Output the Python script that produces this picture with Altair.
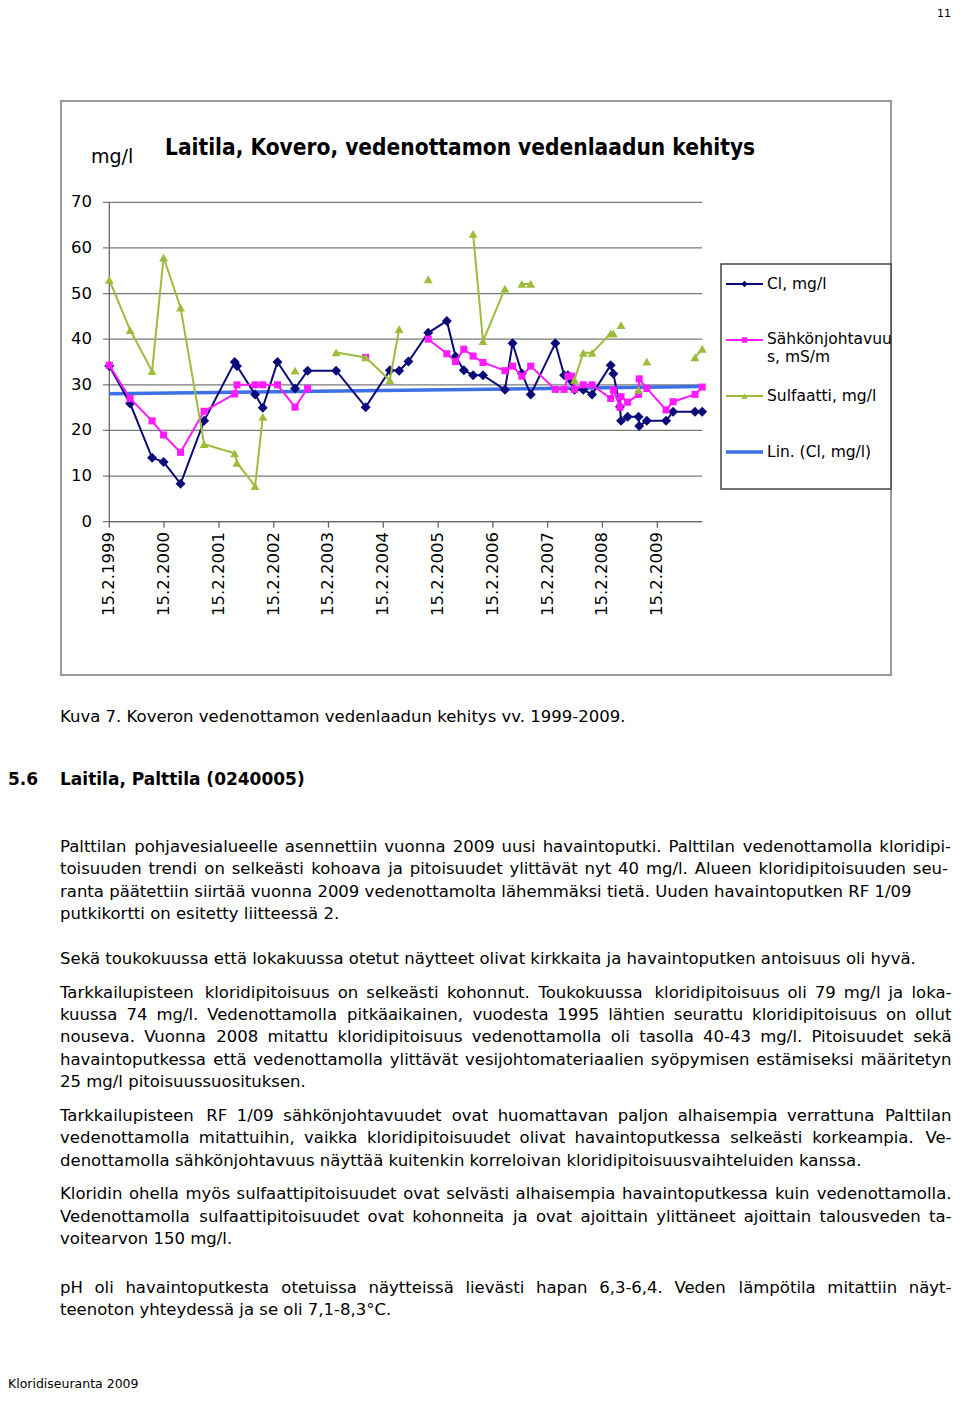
import altair as alt

# ---------------- data ----------------
dates = ["1999-02-15", "1999-07-04", "1999-11-27", "2000-02-12", "2000-06-04", "2000-11-08",
         "2001-05-31", "2001-06-15", "2001-10-14", "2001-12-04", "2002-03-12", "2002-07-07",
         "2002-09-29", "2003-04-07", "2003-10-21", "2004-03-30", "2004-05-31", "2004-08-01",
         "2004-12-11", "2005-04-14", "2005-06-11", "2005-08-05", "2005-10-06", "2005-12-11",
         "2006-05-06", "2006-06-26", "2006-08-27", "2006-10-25", "2007-04-07", "2007-06-05",
         "2007-06-30", "2007-07-26", "2007-08-13", "2007-10-10", "2007-12-08", "2008-04-10",
         "2008-04-28", "2008-06-11", "2008-06-18", "2008-08-01", "2008-10-13", "2008-10-17",
         "2008-12-07", "2009-04-14", "2009-05-31", "2009-10-24", "2009-12-11"]
cl = [34.1, 25.9, 14.0, 13.1, 8.3, 22.1, 35.0, 34.1, 27.9, 25.0, 35.0, 29.2,
      33.1, 33.1, 25.1, 33.2, 33.1, 35.1, 41.4, 44.0, 36.2, 33.2, 32.1, 32.1,
      28.9, 39.1, 32.5, 27.9, 39.1, 32.1, 32.1, 30.7, 28.9, 28.9, 27.9, 34.3,
      32.4, 25.2, 22.1, 23.0, 23.0, 21.0, 22.1, 22.1, 24.1, 24.1, 24.1]
cond = [34.3, 27.0, 22.1, 19.0, 15.2, 24.2, 28.0, 30.0, 30.0, 30.0, 30.0, 25.1,
        29.2, None, 36.0, None, None, None, 40.0, 36.8, 35.1, 37.8, 36.3, 34.9,
        33.1, 34.1, 31.9, 34.1, 29.0, 29.0, 31.9, 31.9, 29.0, 30.0, 30.0, 27.0,
        28.9, 25.1, 27.4, 26.2, 27.9, 31.3, 29.2, 24.5, 26.3, 27.9, 29.5]
sulf = [53.0, 42.0, 33.0, 57.9, 46.9, 17.0, 15.0, 12.9, 7.8, 23.0, None, 33.1,
        None, 37.1, 36.0, 31.0, 42.2, None, 53.1, None, None, None, 63.1, 39.6,
        51.1, None, 52.1, 52.1, None, None, None, None, 31.1, 37.0, 37.0, 41.3,
        41.3, None, 43.1, None, 28.9, None, 35.1, None, None, 36.0, 37.9]

legend_labels = ["Cl, mg/l", "Sähkönjohtavuu", "s, mS/m", "Sulfaatti, mg/l", "Lin. (Cl, mg/l)"]
y_ticks = [0, 10, 20, 30, 40, 50, 60, 70]
x_tick_dates = ["1999-02-15", "2000-02-15", "2001-02-15", "2002-02-15", "2003-02-15", "2004-02-15",
                "2005-02-15", "2006-02-15", "2007-02-15", "2008-02-15", "2009-02-15"]
x_tick_labels = ["15.2.1999", "15.2.2000", "15.2.2001", "15.2.2002", "15.2.2003", "15.2.2004",
                 "15.2.2005", "15.2.2006", "15.2.2007", "15.2.2008", "15.2.2009"]
x_axis_end = "2009-12-11"
chart_title = "Laitila, Kovero, vedenottamon vedenlaadun kehitys"
y_unit = "mg/l"
caption = "Kuva 7. Koveron vedenottamon vedenlaadun kehitys vv. 1999-2009."
section_no = "5.6"
section_title = "Laitila, Palttila (0240005)"
paragraphs = [
    ["Palttilan pohjavesialueelle asennettiin vuonna 2009 uusi havaintoputki. Palttilan vedenottamolla kloridipi-",
     "toisuuden trendi on selkeästi kohoava ja pitoisuudet ylittävät nyt 40 mg/l. Alueen kloridipitoisuuden seu-",
     "ranta päätettiin siirtää vuonna 2009 vedenottamolta lähemmäksi tietä. Uuden havaintoputken RF 1/09",
     "putkikortti on esitetty liitteessä 2."],
    ["Sekä toukokuussa että lokakuussa otetut näytteet olivat kirkkaita ja havaintoputken antoisuus oli hyvä."],
    ["Tarkkailupisteen kloridipitoisuus on selkeästi kohonnut. Toukokuussa kloridipitoisuus oli 79 mg/l ja loka-",
     "kuussa 74 mg/l.  Vedenottamolla pitkäaikainen, vuodesta 1995 lähtien seurattu kloridipitoisuus on ollut",
     "nouseva. Vuonna 2008 mitattu kloridipitoisuus vedenottamolla oli tasolla 40-43 mg/l. Pitoisuudet sekä",
     "havaintoputkessa että vedenottamolla ylittävät vesijohtomateriaalien syöpymisen estämiseksi määritetyn",
     "25 mg/l pitoisuussuosituksen."],
    ["Tarkkailupisteen RF 1/09 sähkönjohtavuudet ovat huomattavan paljon alhaisempia verrattuna Palttilan",
     "vedenottamolla mitattuihin, vaikka kloridipitoisuudet olivat havaintoputkessa selkeästi korkeampia. Ve-",
     "denottamolla sähkönjohtavuus näyttää kuitenkin korreloivan kloridipitoisuusvaihteluiden kanssa."],
    ["Kloridin ohella myös sulfaattipitoisuudet ovat selvästi alhaisempia havaintoputkessa kuin vedenottamolla.",
     "Vedenottamolla sulfaattipitoisuudet ovat kohonneita ja ovat ajoittain ylittäneet ajoittain talousveden ta-",
     "voitearvon 150 mg/l."],
    ["pH oli havaintoputkesta otetuissa näytteissä lievästi hapan 6,3-6,4. Veden lämpötila mitattiin näyt-",
     "teenoton yhteydessä ja se oli 7,1-8,3°C."],
]
page_number = "11"
footer = "Kloridiseuranta 2009"

# ---------------- layout (page pixels -> canvas pixels) ----------------
OFF = 8
W, H = 944, 1382


def c(v):
    return v - OFF


X0, X1 = c(109.3), c(702.2)
Y0, Y70 = c(521.7), c(202.3)
LEFT = 60
RIGHT_MAX = OFF + W - 0.5
para_y = [[846, 868, 891, 913], [958], [992, 1014, 1036, 1059, 1081],
          [1115, 1137, 1160], [1193, 1216, 1238], [1287, 1309]]
# right edge of justified lines (None = ragged last line)
para_right = [[951, 948, None, None], [None], [958, 958, 958, 958, None],
              [958, 958, None], [957, 958, None], [958, None]]

NAVY, MAGENTA, GREEN, TREND = "#0a0a78", "#ff1aff", "#9dbc3c", "#3d6fe6"
AXIS = "#666666"
FONT = "DejaVu Sans"
BODY = 16.5

# approximate DejaVu Sans advance widths (em) for word placement in justified lines
ADV = {" ": .318, ",": .318, "-": .361, ".": .318, "/": .337, ":": .337, "(": .390, ")": .390,
       "°": .500, "0": .636, "1": .636, "2": .636, "3": .636, "4": .636, "5": .636, "6": .636,
       "7": .636, "8": .636, "9": .636,
       "A": .684, "B": .686, "C": .698, "D": .770, "E": .632, "F": .575, "G": .775, "H": .752,
       "I": .295, "J": .295, "K": .656, "L": .557, "M": .863, "N": .748, "O": .787, "P": .603,
       "R": .695, "S": .635, "T": .611, "U": .732, "V": .684, "W": .989, "Y": .611,
       "a": .613, "b": .635, "c": .550, "d": .635, "e": .615, "f": .352, "g": .635, "h": .634,
       "i": .278, "j": .278, "k": .579, "l": .278, "m": .974, "n": .634, "o": .612, "p": .635,
       "q": .635, "r": .411, "s": .521, "t": .392, "u": .634, "v": .592, "w": .818, "x": .592,
       "y": .592, "z": .525, "ä": .613, "ö": .612, "å": .613}


def text_width(s, fs):
    return sum(ADV.get(ch, .6) for ch in s) * fs


xscale = alt.Scale(type="utc",
                   domain=[alt.DateTime(year=1999, month=2, date=15, utc=True),
                           alt.DateTime(year=2009, month=12, date=11, utc=True)],
                   range=[X0, X1])
yscale = alt.Scale(domain=[0, 70], range=[Y0, Y70], nice=False, zero=False)


def X(field, typ="T"):
    return alt.X(f"{field}:{typ}", scale=xscale, axis=None)


def Y(field):
    return alt.Y(f"{field}:Q", scale=yscale, axis=None)


def seg_records(vals):
    recs, seg = [], 0
    for d, v in zip(dates, vals):
        if v is None:
            seg += 1
            continue
        recs.append({"date": d, "value": v, "seg": seg})
    return recs


def one():
    return alt.Data(values=[{}])


layers = []

# chart frame
layers.append(alt.Chart(one()).mark_rect(fill="white", stroke="#9a9a9a", strokeWidth=2).encode(
    x=alt.value(c(61)), x2=alt.value(c(891)), y=alt.value(c(101)), y2=alt.value(c(675))))

# gridlines + y ticks
layers.append(alt.Chart(alt.Data(values=[{"v": t} for t in y_ticks])).mark_rule(
    color="#7a7a7a", strokeWidth=1.3).encode(y=Y("v"), x=alt.value(c(103)), x2=alt.value(X1)))
# y axis line
layers.append(alt.Chart(alt.Data(values=[{"a": y_ticks[0], "b": y_ticks[-1]}])).mark_rule(
    color=AXIS, strokeWidth=1.3).encode(y=Y("a"), y2="b:Q", x=alt.value(X0)))
# x axis line
layers.append(alt.Chart(alt.Data(values=[{"a": x_tick_dates[0], "b": x_axis_end, "v": 0}])).mark_rule(
    color=AXIS, strokeWidth=1.3).encode(x=X("a"), x2="b:T", y=Y("v")))
# x ticks
xt = [{"d": d, "t": t} for d, t in zip(x_tick_dates, x_tick_labels)]
layers.append(alt.Chart(alt.Data(values=xt)).mark_rule(color=AXIS, strokeWidth=1.3).encode(
    x=X("d"), y=alt.value(Y0), y2=alt.value(Y0 + 6)))
# x tick labels
layers.append(alt.Chart(alt.Data(values=xt)).mark_text(
    angle=270, align="right", baseline="middle", font=FONT, fontSize=16.5, color="#000").encode(
    x=X("d"), y=alt.value(c(532)), text="t:N"))
# y tick labels
layers.append(alt.Chart(alt.Data(values=[{"v": t} for t in y_ticks])).mark_text(
    align="right", baseline="middle", font=FONT, fontSize=16.5, color="#000").encode(
    y=Y("v"), x=alt.value(c(92)), text="v:Q"))

# trend line (linear regression of Cl)
layers.append(alt.Chart(alt.Data(values=seg_records(cl))).transform_calculate(
    ts="toNumber(toDate(datum.date))").transform_regression("ts", "value").mark_line(
    color=TREND, strokeWidth=3.5).encode(x=X("ts"), y=Y("value")))


def series(vals, color, shape, size):
    base = alt.Chart(alt.Data(values=seg_records(vals)))
    return [base.mark_line(color=color, strokeWidth=2).encode(x=X("date"), y=Y("value"), detail="seg:N"),
            base.mark_point(shape=shape, filled=True, size=size, color=color, opacity=1).encode(
                x=X("date"), y=Y("value"))]


layers += series(cl, NAVY, "diamond", 100)
layers += series(cond, MAGENTA, "square", 50)
layers += series(sulf, GREEN, "triangle-up", 80)

# legend box
layers.append(alt.Chart(one()).mark_rect(fill="white", stroke="#444", strokeWidth=1.5).encode(
    x=alt.value(c(721)), x2=alt.value(c(891)), y=alt.value(c(264)), y2=alt.value(c(489))))
leg_items = [(284, NAVY, "diamond", 40, 2), (340, MAGENTA, "square", 30, 2),
             (396, GREEN, "triangle-up", 40, 2), (452, TREND, None, 0, 3.5)]
for yc, col, shp, sz, sw in leg_items:
    layers.append(alt.Chart(one()).mark_rule(color=col, strokeWidth=sw).encode(
        x=alt.value(c(726)), x2=alt.value(c(763)), y=alt.value(c(yc))))
    if shp:
        layers.append(alt.Chart(one()).mark_point(shape=shp, filled=True, size=sz, color=col,
                                                  opacity=1).encode(
            x=alt.value(c(744.5)), y=alt.value(c(yc))))


def texts(rows, size, weight="normal", font=FONT, align="left", color="#000"):
    return alt.Chart(alt.Data(values=rows)).mark_text(
        align=align, baseline="alphabetic", font=font, fontSize=size, fontWeight=weight,
        color=color).encode(x=alt.X("x:Q", scale=None, axis=None),
                            y=alt.Y("y:Q", scale=None, axis=None), text="t:N")


leg_y = [284, 339, 357, 396, 452]
layers.append(texts([{"x": c(767), "y": c(yc + 4.5), "t": t} for t, yc in zip(legend_labels, leg_y)], 15.5))

layers.append(texts([{"x": c(165), "y": c(155), "t": chart_title}], 22.5, "bold", "DejaVu Sans Condensed"))
layers.append(texts([{"x": c(91), "y": c(163), "t": y_unit}], 19))
layers.append(texts([{"x": c(LEFT), "y": c(722), "t": caption}], BODY))
layers.append(texts([{"x": 0, "y": c(785), "t": section_no}, {"x": c(LEFT), "y": c(785), "t": section_title}],
                    17, "bold"))

# body text, justified lines placed word by word
left_rows, right_rows = [], []
for lines, ys, rights in zip(paragraphs, para_y, para_right):
    for t, yc, r in zip(lines, ys, rights):
        yb = c(yc + 5.5)
        if r is None:
            left_rows.append({"x": c(LEFT), "y": yb, "t": t})
            continue
        r = min(r, RIGHT_MAX)
        words = t.split()
        widths = [text_width(w, BODY) for w in words]
        gap = (r - LEFT - sum(widths)) / (len(words) - 1)
        x = LEFT
        for w, wd in zip(words[:-1], widths[:-1]):
            left_rows.append({"x": c(x), "y": yb, "t": w})
            x += wd + gap
        right_rows.append({"x": c(r), "y": yb, "t": words[-1]})
layers.append(texts(left_rows, BODY))
layers.append(texts(right_rows, BODY, align="right"))

layers.append(texts([{"x": W - 1, "y": 9, "t": page_number}], 11, align="right"))
layers.append(texts([{"x": 0, "y": H - 2, "t": footer}], 12.5))

chart = alt.layer(*layers).resolve_scale(x="independent", y="independent").properties(
    width=W, height=H, padding=0, autosize=alt.AutoSizeParams(type="none")
).configure_view(stroke=None)

chart.save("out.html", embed_options={"renderer": "svg", "actions": False})
